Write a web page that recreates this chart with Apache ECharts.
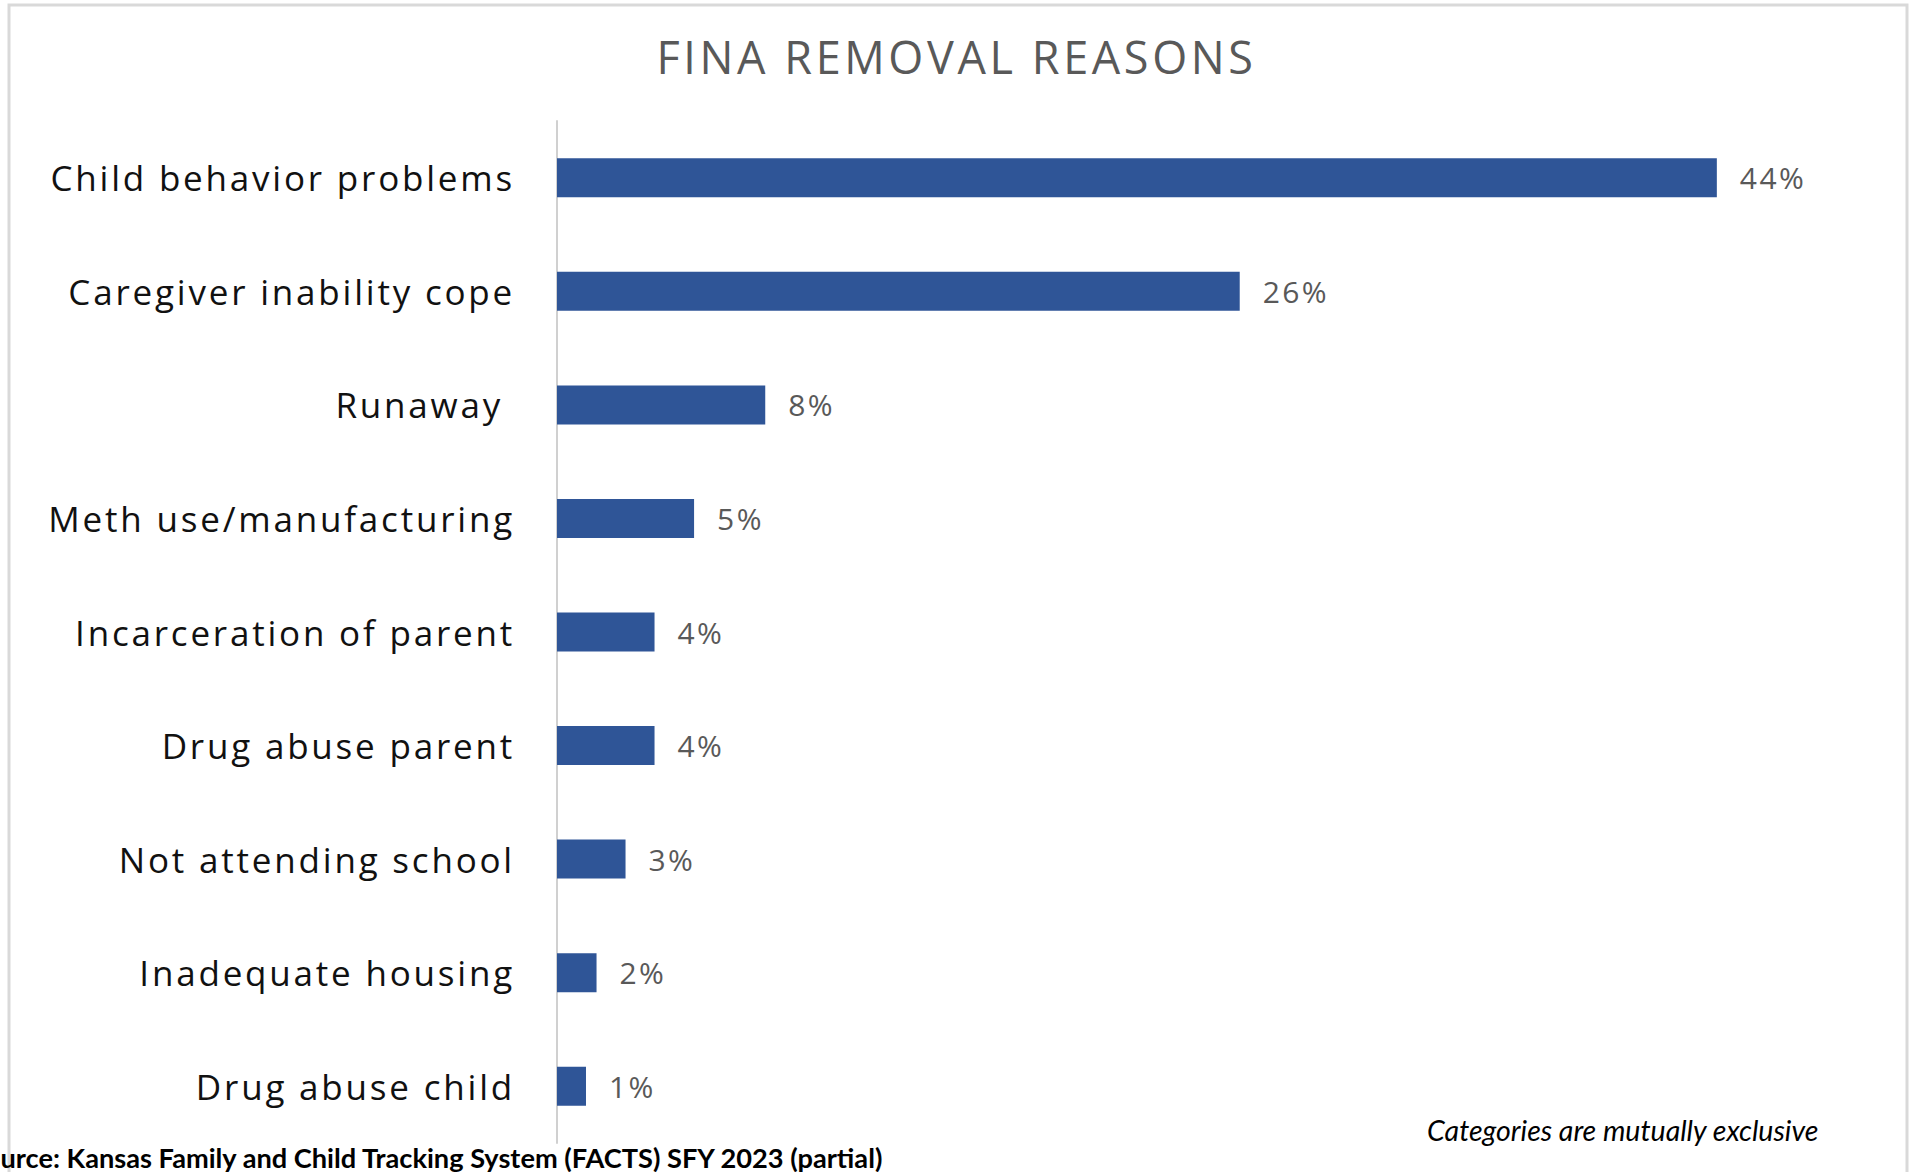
<!DOCTYPE html>
<html>
<head>
<meta charset="utf-8">
<title>FINA Removal Reasons</title>
<script src="https://cdn.jsdelivr.net/npm/echarts@6/dist/echarts.min.js"></script>
<style>
  html, body { margin: 0; padding: 0; background: #fff; }
  #chart { width: 1913px; height: 1172px; }
  /* chart texts in the reference are slightly spaced out; notes are not */
  #chart text { white-space: pre; }
  #chart text[style*="Open Sans"] { letter-spacing: 0.08em; }
</style>
</head>
<body>
<div id="chart"></div>
<script>
// reasons, top to bottom
const reasons = [
  'Child behavior problems',
  'Caregiver inability cope',
  'Runaway ',
  'Meth use/manufacturing',
  'Incarceration of parent',
  'Drug abuse parent',
  'Not attending school',
  'Inadequate housing',
  'Drug abuse child'
];
// share of removals (%)
const shares = [44, 25.9, 7.9, 5.2, 3.7, 3.7, 2.6, 1.5, 1.1];

const titleText = 'FINA REMOVAL REASONS';
const noteText = 'Categories are mutually exclusive';
const sourceText = 'Source: Kansas Family and Child Tracking System (FACTS) SFY 2023 (partial)';

const chart = echarts.init(document.getElementById('chart'), null, { renderer: 'svg' });

const option = {
  animation: false,
  backgroundColor: '#fff',
  title: {
    text: titleText,
    left: 'center',
    top: 29,
    textStyle: {
      fontFamily: 'Open Sans',
      fontSize: 45,
      fontWeight: 'normal',
      color: '#595959'
    }
  },
  grid: {
    left: 557,
    top: 121,
    width: 1318,
    height: 1022
  },
  xAxis: {
    type: 'value',
    min: 0,
    max: 50,
    show: false
  },
  yAxis: {
    type: 'category',
    data: reasons,
    inverse: true,
    axisTick: { show: false },
    axisLine: {
      show: true,
      lineStyle: { color: '#d0d0d0', width: 2 }
    },
    axisLabel: {
      margin: 42,
      fontFamily: 'Open Sans',
      fontSize: 35,
      color: '#111'
    },
    splitLine: { show: false }
  },
  series: [
    {
      type: 'bar',
      data: shares,
      barWidth: 39,
      itemStyle: { color: '#2f5597' },
      label: {
        show: true,
        position: 'right',
        distance: 23,
        fontFamily: 'Open Sans',
        fontSize: 30,
        color: '#595959',
        formatter: p => Math.round(p.value) + '%'
      }
    }
  ],
  graphic: [
    {
      type: 'rect',
      silent: true,
      shape: { x: 9, y: 5, width: 1898, height: 1250 },
      style: { fill: 'none', stroke: '#d9d9d9', lineWidth: 3 }
    },
    {
      type: 'text',
      x: 1427,
      y: 1130,
      style: {
        text: noteText,
        fontFamily: 'Lato',
        fontStyle: 'italic',
        fontSize: 28.5,
        fill: '#000',
        verticalAlign: 'middle'
      }
    },
    {
      type: 'text',
      x: -30,
      y: 1157,
      style: {
        text: sourceText,
        fontFamily: 'Lato',
        fontWeight: 'bold',
        fontSize: 27.2,
        fill: '#000',
        verticalAlign: 'middle'
      }
    }
  ]
};

chart.setOption(option);
</script>
</body>
</html>
